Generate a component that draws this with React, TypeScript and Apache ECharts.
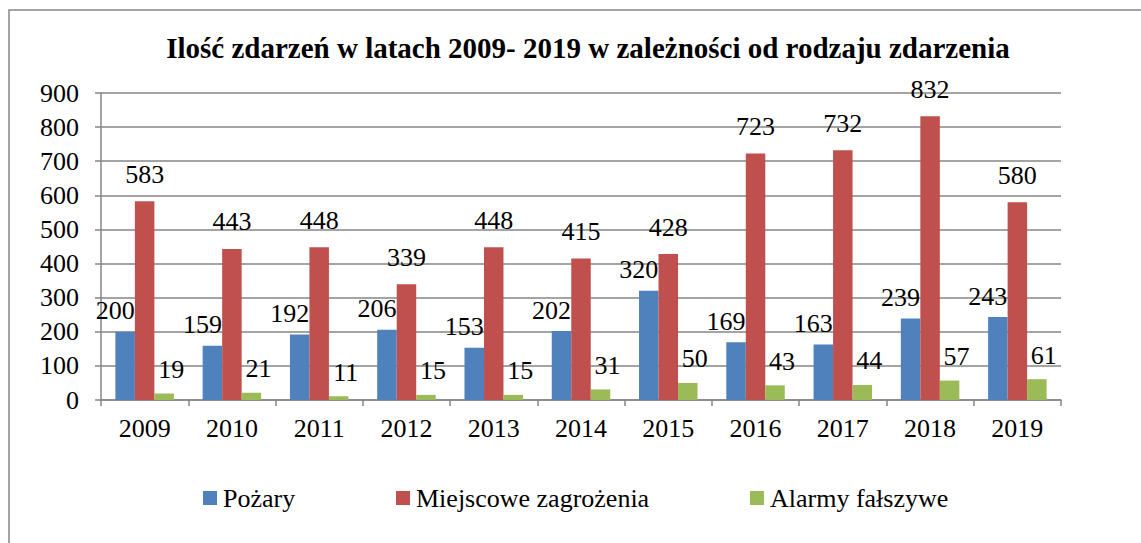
import React, { useEffect, useRef } from "react";
import * as echarts from "echarts";

const years = ["2009", "2010", "2011", "2012", "2013", "2014", "2015", "2016", "2017", "2018", "2019"];
const pozary = [200, 159, 192, 206, 153, 202, 320, 169, 163, 239, 243];
const miejscowe = [583, 443, 448, 339, 448, 415, 428, 723, 732, 832, 580];
const alarmy = [19, 21, 11, 15, 15, 31, 50, 43, 44, 57, 61];
const seriesNames = ["Pożary", "Miejscowe zagrożenia", "Alarmy fałszywe"];
const colors = ["#4F81BD", "#C0504D", "#9BBB59"];
const yTicks = { min: 0, max: 900, interval: 100 };

const FONT = "'Liberation Serif'";

export default function App() {
  const ref = useRef<HTMLDivElement>(null);
  useEffect(() => {
    if (!ref.current) return;
    const chart = echarts.init(ref.current, undefined, { renderer: "svg" });
    const txt = { fontFamily: FONT, fontSize: 26, fontStyle: "normal", fontWeight: "normal", color: "#000" };
    const offsets = [[-10, 0], [0, 0], [7, 0]];
    const distances = [8, 14, 11];
    const data = [pozary, miejscowe, alarmy];
    const legendLefts = [198, 391, 745];
    chart.setOption({
      animation: false,
      textStyle: { fontFamily: FONT },
      title: {
        text: "Ilość zdarzeń w latach 2009- 2019 w zależności od rodzaju zdarzenia",
        left: 583,
        textAlign: "center",
        top: 28,
        textStyle: { fontFamily: FONT, fontSize: 29, fontWeight: "bold", color: "#000" },
      },
      legend: seriesNames.map((n, i) => ({
        data: [n],
        left: legendLefts[i],
        top: 480,
        itemWidth: 14,
        itemHeight: 14,
        icon: "rect",
        itemGap: 0,
        textStyle: { ...txt, padding: [0, 0, 0, 1] },
      })),
      grid: { left: 101, right: 80, top: 93, bottom: 143, containLabel: false },
      xAxis: {
        type: "category",
        data: years,
        axisLine: { lineStyle: { color: "#868686", width: 1.5 } },
        axisTick: { show: true, length: 6, lineStyle: { color: "#868686", width: 1.5 } },
        axisLabel: { ...txt, margin: 15 },
      },
      yAxis: {
        type: "value",
        min: yTicks.min,
        max: yTicks.max,
        interval: yTicks.interval,
        axisLine: { show: true, lineStyle: { color: "#868686", width: 1.5 } },
        axisTick: { show: true, length: 6, lineStyle: { color: "#868686", width: 1.5 } },
        splitLine: { lineStyle: { color: "#868686", width: 1.5 } },
        axisLabel: { ...txt, margin: 22 },
      },
      graphic: [
        {
          type: "rect",
          shape: { x: 9, y: 10, width: 1150, height: 560 },
          style: { fill: "none", stroke: "#868686", lineWidth: 1.5 },
          silent: true,
        },
      ],
      series: seriesNames.map((n, i) => ({
        name: n,
        type: "bar",
        data: data[i],
        barWidth: 19.5,
        barGap: "0%",
        itemStyle: { color: colors[i] },
        label: { show: true, position: "top", distance: distances[i], ...txt, offset: offsets[i] },
      })),
    });
    return () => chart.dispose();
  }, []);
  return (
    <div
      ref={ref}
      style={{ position: "fixed", left: 0, top: 0, width: 1141, height: 543, background: "#fff" }}
    />
  );
}
